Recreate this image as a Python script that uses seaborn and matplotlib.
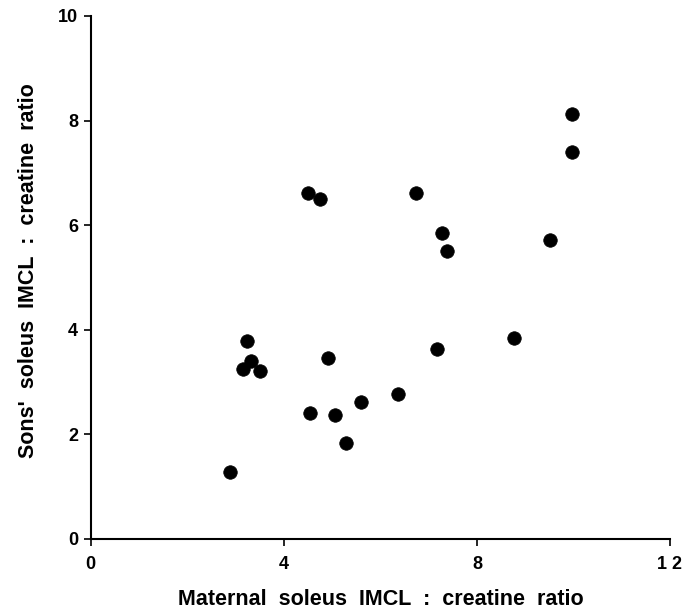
import matplotlib
matplotlib.use("Agg")
import matplotlib.pyplot as plt
import seaborn as sns
import pandas as pd

maternal = [2.89, 3.24, 3.15, 3.32, 3.51, 4.91, 4.54, 5.07, 5.29, 4.51, 4.74,
            9.98, 9.98, 6.74, 7.27, 7.39, 9.51, 7.18, 6.36, 5.60, 8.77]
sons = [1.29, 3.79, 3.25, 3.41, 3.22, 3.47, 2.40, 2.37, 1.83, 6.62, 6.50,
        8.12, 7.40, 6.62, 5.86, 5.51, 5.72, 3.64, 2.78, 2.61, 3.84]
x_ticks = [0, 4, 8, 12]
x_tick_labels = ["0", "4", "8", "1 2"]
y_ticks = [0, 2, 4, 6, 8, 10]

df = pd.DataFrame({"maternal": maternal, "sons": sons})

sns.set_style("ticks")
plt.rcParams["font.family"] = ["Liberation Sans", "DejaVu Sans"]
plt.rcParams["text.color"] = "black"
plt.rcParams["axes.labelcolor"] = "black"

fig = plt.figure(figsize=(6.94, 6.12), dpi=100)
ax = fig.add_axes([0.1307, 0.1193, 0.9654 - 0.1307, 0.9739 - 0.1193])
sns.scatterplot(data=df, x="maternal", y="sons", ax=ax, color="black",
                s=95, edgecolor="black", linewidth=0.5, zorder=3)

ax.set_xlim(0, 12)
ax.set_ylim(0, 10)
ax.set_xticks(x_ticks)
ax.set_xticklabels(x_tick_labels)
ax.set_yticks(y_ticks)
for lab in ax.get_xticklabels() + ax.get_yticklabels():
    lab.set_fontweight("bold")
    lab.set_fontsize(13)
    lab.set_color("black")
ax.tick_params(axis="both", direction="out", length=5, width=1.2, colors="black", pad=4)
ax.tick_params(axis="x", pad=7)
sns.despine(ax=ax)
for sp in ["left", "bottom"]:
    ax.spines[sp].set_linewidth(1.5)
    ax.spines[sp].set_color("black")

ax.set_xlabel("Maternal  soleus  IMCL  :  creatine  ratio", fontsize=15.5,
              fontweight="bold", color="black")
ax.set_ylabel("Sons'  soleus  IMCL  :  creatine  ratio", fontsize=15.5,
              fontweight="bold", color="black")
ax.xaxis.set_label_coords(0.50, -0.1166)
ax.xaxis.label.set_va("center")
ax.yaxis.set_label_coords(-0.108, 0.514)
ax.yaxis.label.set_va("center")

fig.savefig("out.png", dpi=100)
